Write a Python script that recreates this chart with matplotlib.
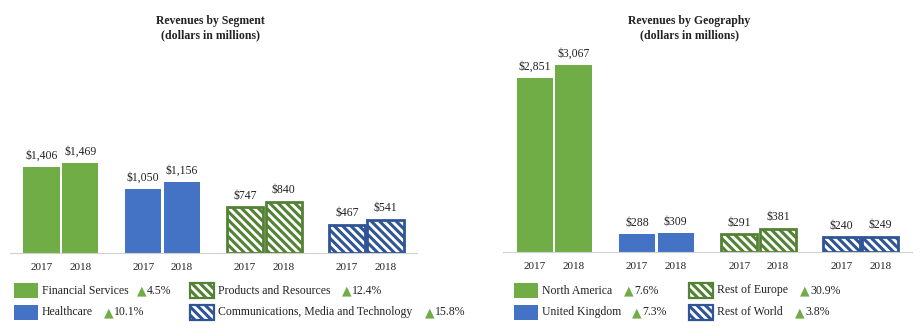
import matplotlib.pyplot as plt
from matplotlib.patches import Rectangle
import numpy as np

plt.rcParams['font.family'] = ['Liberation Serif', 'DejaVu Sans']
plt.rcParams['hatch.linewidth'] = 2.2

GREEN = '#70AD47'
BLUE = '#4472C4'
DGREEN = '#548235'
DBLUE = '#2F5597'
TXT = '#222222'

segments = ['Financial Services', 'Healthcare', 'Products and Resources',
            'Communications, Media and Technology']
seg_2017 = [1406, 1050, 747, 467]
seg_2018 = [1469, 1156, 840, 541]
seg_growth = ['4.5%', '10.1%', '12.4%', '15.8%']

geos = ['North America', 'United Kingdom', 'Rest of Europe', 'Rest of World']
geo_2017 = [2851, 288, 291, 240]
geo_2018 = [3067, 309, 381, 249]
geo_growth = ['7.6%', '7.3%', '30.9%', '3.8%']

# style per group: solid green, solid blue, hatched green, hatched blue
face = [GREEN, BLUE, 'white', 'white']
edge = [GREEN, BLUE, DGREEN, DBLUE]
hatch = [None, None, '\\\\\\\\', '\\\\\\\\']
lw = [0, 0, 2, 2]

fig = plt.figure(figsize=(9.22, 3.34), dpi=100)
W, H = 922, 334
ymax = 3300
h_px = ymax * 0.061


def bar_chart(rect, v17, v18):
    ax = fig.add_axes(rect)
    x = np.arange(len(v17))
    bw, off = 0.355, 0.19
    for i in range(len(x)):
        for xx, v in ((x[i] - off, v17[i]), (x[i] + off, v18[i])):
            ax.bar(xx, v, width=bw, color=face[i], edgecolor=edge[i],
                   hatch=hatch[i], linewidth=lw[i])
            ax.annotate('${:,}'.format(v), (xx, v), xytext=(0, 4),
                        textcoords='offset points', ha='center', va='bottom',
                        fontsize=8.5, color=TXT)
    ticks = np.concatenate([x - off, x + off])
    ax.set_xticks(ticks, ['2017'] * len(x) + ['2018'] * len(x))
    ax.tick_params(axis='x', length=0, pad=7.5, labelsize=8, labelcolor=TXT)
    ax.set_yticks([])
    ax.set_xlim(-0.5, 3.5)
    ax.set_ylim(0, ymax)
    for s in ['top', 'right', 'left']:
        ax.spines[s].set_visible(False)
    ax.spines['bottom'].set_color('#d0d0d0')
    ax.patch.set_alpha(0)
    return ax


bar_chart([10 / W, (H - 253) / H, 407 / W, h_px / H], seg_2017, seg_2018)
bar_chart([503 / W, (H - 252) / H, 409 / W, h_px / H], geo_2017, geo_2018)

fig.text(210 / W, 1 - 21 / H, 'Revenues by Segment', ha='center', va='center',
         fontsize=8.5, fontweight='bold', color=TXT)
fig.text(210 / W, 1 - 35 / H, '(dollars in millions)', ha='center', va='center',
         fontsize=8.5, fontweight='bold', color=TXT)
fig.text(689 / W, 1 - 21 / H, 'Revenues by Geography', ha='center', va='center',
         fontsize=8.5, fontweight='bold', color=TXT)
fig.text(689 / W, 1 - 35 / H, '(dollars in millions)', ha='center', va='center',
         fontsize=8.5, fontweight='bold', color=TXT)

# legends drawn in pixel space
lg = fig.add_axes([0, 0, 1, 1])
lg.set_xlim(0, W)
lg.set_ylim(H, 0)
lg.axis('off')


def legend_item(x, y, i, name, growth, gx):
    lg.add_patch(Rectangle((x, y - 7.5), 24, 15, facecolor=face[i], edgecolor=edge[i],
                           hatch=hatch[i], linewidth=lw[i] * 0.8))
    lg.text(x + 28, y, name, ha='left', va='center', fontsize=8.5, color=TXT)
    lg.text(gx, y + 0.5, '\u25B2', ha='left', va='center', fontsize=9, color=GREEN,
            family='DejaVu Sans')
    lg.text(gx + 10, y, growth, ha='left', va='center', fontsize=8.5, color=TXT)


seg_pos = [(14, 290.5, 137), (14, 312, 104), (190, 290.5, 342), (190, 312, 425)]
for i, (x, y, gx) in enumerate(seg_pos):
    legend_item(x, y, i, segments[i], seg_growth[i], gx)

geo_pos = [(514, 290.5, 624), (514, 312, 632), (689, 290.5, 800), (689, 312, 795)]
for i, (x, y, gx) in enumerate(geo_pos):
    legend_item(x, y, i, geos[i], geo_growth[i], gx)

fig.savefig('out.png', dpi=100)
